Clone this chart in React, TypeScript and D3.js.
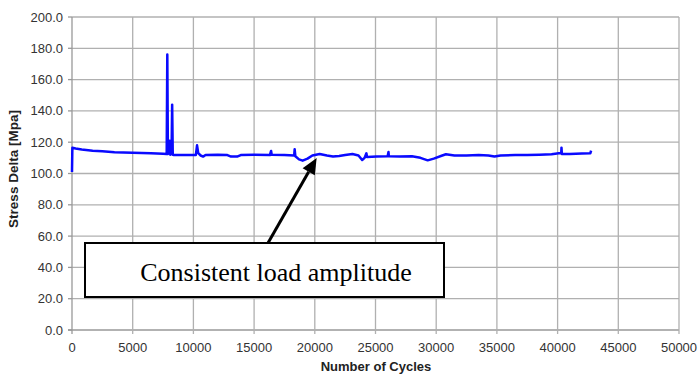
import React from "react";
import * as d3 from "d3";

const cycles = [0, 30, 300, 800, 1700, 2500, 3500, 5000, 6500, 7500, 7800, 7850, 7900, 7950, 8000, 8050, 8100, 8200, 8250, 8300, 8400, 9000, 10200, 10300, 10400, 10600, 10800, 11000, 12000, 12800, 13100, 13600, 13900, 15000, 16300, 16400, 16450, 17500, 18300, 18340, 18400, 18700, 19000, 19400, 19800, 20400, 21000, 21500, 22000, 22500, 23100, 23600, 23900, 24100, 24250, 24300, 25100, 26000, 26070, 26100, 27000, 28000, 28700, 29300, 29800, 30500, 30800, 31500, 32500, 33500, 34300, 34800, 35300, 36500, 37500, 38500, 39500, 40100, 40300, 40320, 40350, 41000, 42000, 42700, 42760];
const stress = [101, 116.5, 116, 115.3, 114.6, 114.2, 113.6, 113.3, 112.9, 112.6, 112.5, 176, 112.5, 120, 113, 121, 112, 113, 144, 112, 111.8, 111.8, 111.8, 118, 113, 111.5, 110.8, 111.8, 112, 111.8, 110.8, 110.8, 111.8, 112, 111.8, 114.4, 112, 111.8, 111.5, 115.5, 111, 109, 108.2, 109.5, 111.5, 112.5, 111.5, 110.8, 111.2, 111.8, 112.5, 111.5, 108.6, 110, 112.9, 110.5, 110.8, 111, 113.7, 111, 110.8, 111, 110, 108.4, 109.5, 111.5, 112.3, 111.5, 111.5, 111.8, 111.5, 110.8, 111.5, 111.8, 111.8, 112, 112.3, 112.9, 112.9, 116.5, 112.5, 112.5, 112.8, 113, 114.6];

const xTicks = [0, 5000, 10000, 15000, 20000, 25000, 30000, 35000, 40000, 45000, 50000];
const yTicks = [0, 20, 40, 60, 80, 100, 120, 140, 160, 180, 200];

const xLabel = "Number of Cycles";
const yLabel = "Stress Delta [Mpa]";
const annotation = "Consistent load amplitude";
const arrowTarget = [20400, 112.5];

export default function App() {
  const W = 699, H = 374;
  const x = d3.scaleLinear().domain([0, 50000]).range([72, 679]);
  const y = d3.scaleLinear().domain([0, 200]).range([330, 17]);
  const line = d3.line<number>().x((_, i) => x(cycles[i])).y((d) => y(d));
  const font = "'Liberation Sans', Arial, sans-serif";
  const tx = x(arrowTarget[0]) - 3;
  const ty = y(arrowTarget[1]) + 4;
  const sx = 268, sy = 243;
  const ang = Math.atan2(ty - sy, tx - sx);
  const hl = 16, hw = 7;
  const bx = tx - hl * Math.cos(ang), by = ty - hl * Math.sin(ang);
  const px = -Math.sin(ang), py = Math.cos(ang);
  return (
    <svg width={W} height={H} style={{ position: "absolute", left: 0, top: 0, background: "#fff" }}>
      <rect x={0} y={0} width={W} height={H} fill="#fff" />
      {yTicks.map((t) => (
        <g key={"y" + t}>
          <line x1={t === 0 ? 68 : 72} x2={679} y1={y(t)} y2={y(t)} stroke={t === 0 ? "#999" : "#b0b0b0"} strokeWidth={1.3} />
          <line x1={68} x2={72} y1={y(t)} y2={y(t)} stroke="#999" strokeWidth={1.3} />
          <text x={63} y={y(t) + 4.5} textAnchor="end" fontFamily={font} fontSize={13} fill="#333">{t.toFixed(1)}</text>
        </g>
      ))}
      {xTicks.map((t) => (
        <g key={"x" + t}>
          <line x1={x(t)} x2={x(t)} y1={17} y2={334} stroke={t === 0 ? "#999" : "#b0b0b0"} strokeWidth={1.3} />
          <text x={x(t)} y={352} textAnchor="middle" fontFamily={font} fontSize={13} fill="#333">{t}</text>
        </g>
      ))}
      <path d={line(stress) || ""} fill="none" stroke="#0a0aff" strokeWidth={2.5} strokeLinejoin="round" />
      <text x={376} y={371} textAnchor="middle" fontFamily={font} fontSize={13} fontWeight="bold" fill="#222">{xLabel}</text>
      <text transform={`translate(18,${169}) rotate(-90)`} textAnchor="middle" fontFamily={font} fontSize={13.5} fontWeight="bold" fill="#222">{yLabel}</text>
      <line x1={sx} y1={sy} x2={bx} y2={by} stroke="#000" strokeWidth={3} />
      <polygon points={`${tx},${ty} ${bx + px * hw},${by + py * hw} ${bx - px * hw},${by - py * hw}`} fill="#000" />
      <rect x={85} y={243} width={359} height={54} fill="#fff" stroke="#000" strokeWidth={2} />
      <text x={276} y={281} textAnchor="middle" fontFamily="'Liberation Serif', 'Times New Roman', serif" fontSize={26} fill="#000">{annotation}</text>
    </svg>
  );
}
